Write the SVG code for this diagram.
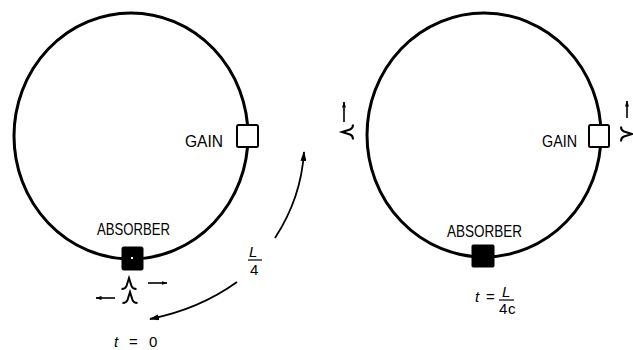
<svg xmlns="http://www.w3.org/2000/svg" width="633" height="350" viewBox="0 0 633 350">
<style>
.ring{fill:none;stroke:#000;stroke-width:3}
.gain{fill:#fff;stroke:#000;stroke-width:2}
.abs{fill:#000;stroke:#000;stroke-width:1}
.lbl{font-family:"Liberation Sans",Arial,sans-serif;font-size:17px;fill:#000}
.math{font-family:"Liberation Sans",Arial,sans-serif;font-size:15px;fill:#000}
.it{font-style:italic}
.arc{fill:none;stroke:#000;stroke-width:1.8}
.pulse{fill:none;stroke:#000;stroke-width:2}
.sm{fill:none;stroke:#000;stroke-width:1.6}
.frac{stroke:#000;stroke-width:1.2}
</style>
<defs>
<marker id="big" viewBox="0 0 10 6" refX="9" refY="3" markerWidth="10" markerHeight="6" markerUnits="userSpaceOnUse" orient="auto">
<path d="M0,0 L10,3 L0,6 Z" fill="#000"/>
</marker>
<marker id="small" viewBox="0 0 6 4" refX="5.5" refY="2" markerWidth="6" markerHeight="4" markerUnits="userSpaceOnUse" orient="auto">
<path d="M0,0 L6,2 L0,4 Z" fill="#000"/>
</marker>
<path id="pulse" d="M-7.5,0 Q-3.5,0 -2.5,-3 L0,-11 L2.5,-3 Q3.5,0 7.5,0"/>
</defs>

<g id="ring-left">
<ellipse class="ring" cx="131" cy="136" rx="117" ry="123"/>
</g>
<g id="gain-left">
<rect class="gain" x="237" y="125" width="21" height="22" rx="1.5"/>
<text class="lbl" x="185" y="147" textLength="38" lengthAdjust="spacingAndGlyphs">GAIN</text>
</g>
<g id="absorber-left">
<rect class="abs" x="122" y="247" width="21" height="23" rx="1.5"/>
<rect x="131" y="257" width="2" height="2" fill="#fff"/>
<text class="lbl" x="97" y="235" textLength="73" lengthAdjust="spacingAndGlyphs">ABSORBER</text>
</g>
<g id="pulses-left">
<use href="#pulse" class="pulse" transform="translate(129,289)"/>
<use href="#pulse" class="pulse" transform="translate(130,303)"/>
</g>
<g id="label-t0">
<text class="math it" x="114" y="347">t</text>
<text class="math" x="129" y="347">=</text>
<text class="math" x="149" y="347">0</text>
</g>
<g id="label-L4">
<text class="math it" x="249" y="257">L</text>
<line class="frac" x1="248" y1="260" x2="262" y2="260"/>
<text class="math" x="250" y="275">4</text>
</g>

<g id="ring-right">
<ellipse class="ring" cx="484" cy="135" rx="117" ry="122"/>
</g>
<g id="gain-right">
<rect class="gain" x="589" y="125" width="20" height="22" rx="1.5"/>
<text class="lbl" x="542" y="147" textLength="35" lengthAdjust="spacingAndGlyphs">GAIN</text>
</g>
<g id="absorber-right">
<rect class="abs" x="472" y="245" width="22" height="22" rx="1"/>
<text class="lbl" x="447" y="237" textLength="75" lengthAdjust="spacingAndGlyphs">ABSORBER</text>
</g>
<g id="pulses-right">
<use href="#pulse" class="pulse" transform="translate(353,132) rotate(-90)"/>
<use href="#pulse" class="pulse" transform="translate(621,134) rotate(90)"/>
</g>
<g id="label-tL4c">
<text class="math it" x="475" y="302">t</text>
<text class="math" x="486" y="302">=</text>
<text class="math it" x="502" y="297">L</text>
<line class="frac" x1="499" y1="300" x2="514" y2="300"/>
<text class="math" x="499" y="314">4</text>
<text class="math" x="508" y="314">c</text>
</g>

<g id="connectors">
<path class="arc" d="M275,238 C290,215 302,185 304,152" marker-end="url(#big)"/>
<path class="arc" d="M237,282 C212,300 180,313 150,319" marker-end="url(#big)"/>
<line class="sm" x1="148" y1="283" x2="167" y2="283" marker-end="url(#small)"/>
<line class="sm" x1="115" y1="298" x2="96" y2="298" marker-end="url(#small)"/>
<line class="sm" x1="344" y1="122" x2="344" y2="102" marker-end="url(#small)"/>
<line class="sm" x1="627" y1="118" x2="627" y2="101" marker-end="url(#small)"/>
</g>
</svg>
